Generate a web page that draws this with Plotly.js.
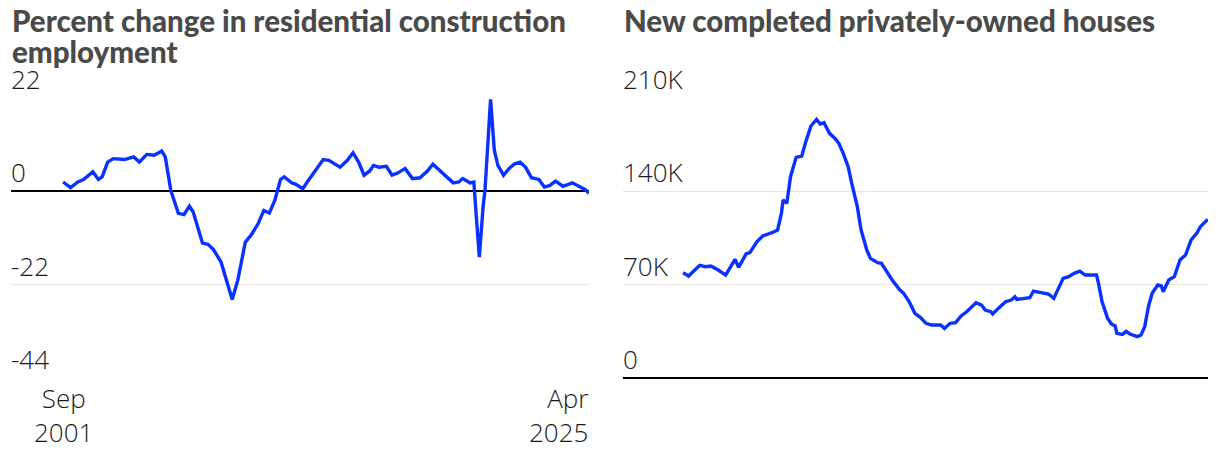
<!DOCTYPE html>
<html>
<head>
<meta charset="utf-8">
<script src="https://cdn.plot.ly/plotly-3.0.1.min.js"></script>
<style>
  html, body { margin: 0; padding: 0; background: #fff; }
  #chart { width: 1220px; height: 456px; }
</style>
</head>
<body>
<div id="chart"></div>
<script>
// ---- Data: percent change in residential construction employment ----
const empDates = [
  '2001-09','2002-01','2002-05','2002-08','2003-01','2003-04','2003-06','2003-09','2003-12',
  '2004-06','2004-11','2005-02','2005-06','2005-10','2006-02','2006-04','2006-07','2006-11',
  '2007-02','2007-05','2007-07','2007-10','2007-12','2008-03','2008-06','2008-10','2009-01',
  '2009-04','2009-07','2009-11','2010-02','2010-06','2010-09','2010-12','2011-03','2011-06',
  '2011-08','2011-12','2012-02','2012-06','2012-09','2013-01','2013-05','2013-08','2014-02',
  '2014-06','2014-09','2014-12','2015-03','2015-06','2015-08','2015-11','2016-03','2016-06',
  '2016-09','2017-01','2017-05','2017-09','2018-01','2018-04','2018-08','2018-11','2019-03',
  '2019-06','2019-08','2019-12','2020-02','2020-03','2020-05','2020-07','2020-08','2020-11',
  '2021-01','2021-03','2021-06','2021-09','2021-12','2022-03','2022-06','2022-09','2023-01',
  '2023-04','2023-07','2023-10','2024-02','2024-07','2024-11','2025-02','2025-04'
];
const empValues = [
  2.2, 0.9, 2.2, 2.8, 4.6, 2.8, 3.4, 6.9, 7.7,
  7.5, 8.1, 6.9, 8.7, 8.5, 9.5, 8.1, 0.2, -5.2,
  -5.5, -3.5, -4.8, -9.2, -12.2, -12.5, -13.8, -16.7, -21.0,
  -25.5, -21.0, -12.0, -10.4, -7.6, -4.5, -5.1, -2.1, 2.8,
  3.4, 2.0, 1.7, 0.6, 2.6, 5.1, 7.5, 7.3, 5.7,
  7.3, 9.1, 6.9, 3.8, 4.8, 6.1, 5.7, 5.9, 3.8,
  4.3, 5.4, 3.0, 3.2, 4.8, 6.4, 4.8, 3.4, 2.0,
  2.2, 3.0, 2.0, 2.2, -3.7, -15.5, -3.7, 0.2, 21.7,
  9.7, 6.1, 3.8, 5.4, 6.5, 6.9, 5.6, 3.2, 2.8,
  1.0, 1.4, 2.4, 1.2, 2.0, 1.2, 0.4, -0.5
];

// ---- Data: new completed privately-owned houses (thousands) ----
const houseDates = [
  '2001-09','2001-12','2002-03','2002-06','2002-09','2002-12','2003-04','2003-08','2004-01',
  '2004-03','2004-07','2004-09','2005-01','2005-04','2005-09','2005-12','2006-02','2006-03',
  '2006-05','2006-07','2006-10','2007-01','2007-03','2007-05','2007-06','2007-09','2007-11',
  '2008-01','2008-04','2008-07','2008-09','2008-11','2009-02','2009-04','2009-07','2009-09',
  '2009-12','2010-02','2010-06','2010-08','2010-11','2011-02','2011-06','2011-08','2011-11',
  '2012-02','2012-05','2012-08','2012-11','2013-04','2013-06','2013-09','2013-12','2014-03',
  '2014-06','2014-09','2014-11','2015-02','2015-04','2015-07','2015-08','2015-11','2016-03',
  '2016-06','2016-08','2016-09','2017-01','2017-04','2017-06','2017-10','2018-02','2018-05',
  '2018-08','2018-10','2019-01','2019-04','2019-07','2019-10','2020-04','2020-05','2020-07',
  '2020-10','2020-12','2021-02','2021-03','2021-06','2021-08','2021-10','2022-02','2022-04',
  '2022-06','2022-08','2022-10','2023-01','2023-03','2023-04','2023-07','2023-10','2024-01',
  '2024-04','2024-07','2024-10','2024-12','2025-01','2025-04'
];
const houseValues = [
  79, 76.5, 80.5, 84.5, 83.5, 84, 81, 77.2, 89,
  83, 93, 94, 102.5, 106.5, 109, 111, 123.5, 133.5,
  131, 151, 165.5, 166.5, 176, 186, 189, 194, 190.5,
  191.5, 183.5, 179.7, 176, 169.7, 158.5, 146, 128.5, 111,
  96.5, 89.7, 86.5, 86, 79.7, 73, 66, 63.5, 57.2,
  48.5, 45.5, 41, 39.7, 39.7, 37.2, 41, 41.5, 46.5,
  49.7, 54, 56.5, 54.7, 51, 49.7, 48, 52.2, 57.2,
  58.5, 61, 59, 59.7, 60.2, 65.2, 64, 63, 59.7,
  69.7, 74.7, 76, 78.5, 80.2, 77.2, 77.2, 71.5, 57.2,
  44.7, 40.5, 39, 33.5, 32.7, 35, 33, 31, 32.2,
  38.5, 53.5, 63.5, 69.7, 69, 64.7, 73.5, 76, 88.5,
  92.2, 103.5, 108.5, 113.5, 114.7, 119
];

// ---- Axis labels and titles ----
const leftTickVals = [-44, -22, 0, 22];
const leftTickText = ['-44', '-22', '0', '22'];
const rightTickVals = [0, 70, 140, 210];
const rightTickText = ['0', '70K', '140K', '210K'];
const xTickDates = ['2001-09-01', '2025-04-01'];
const xTickMonths = ['Sep', 'Apr'];
const xTickYears = ['2001', '2025'];
const leftTitleLines = ['Percent change in residential construction', 'employment'];
const rightTitleLines = ['New completed privately-owned houses'];

const BLUE = '#0a32ff';
const GRID = '#e4e4e4';
const TXT = '#1a1a1a';
const tickFont = { family: '"Open Sans", Roboto, "Liberation Sans", sans-serif', size: 26, color: TXT, weight: 300 };
const titleFont = { family: 'Lato, Roboto, "Liberation Sans", sans-serif', size: 29.5, color: '#4a4a4a', weight: 900 };

// plot area: top at 97px, bottom at 379px (1px padding beyond the outer gridlines)
const PLOT_BOTTOM = 379, PLOT_H = 282;
const py = p => (PLOT_BOTTOM - p) / PLOT_H;

const traces = [
  { x: empDates, y: empValues, type: 'scatter', mode: 'lines', xaxis: 'x', yaxis: 'y',
    line: { color: BLUE, width: 3.4 }, hoverinfo: 'skip' },
  { x: houseDates, y: houseValues, type: 'scatter', mode: 'lines', xaxis: 'x2', yaxis: 'y2',
    line: { color: BLUE, width: 3.4 }, hoverinfo: 'skip' }
];

const annotations = [];
[[leftTitleLines, 'x domain'], [rightTitleLines, 'x2 domain']].forEach(([lines, ref]) => {
  lines.forEach((t, i) => {
    annotations.push({ xref: ref, yref: 'paper', x: 0, y: py(2 + 31 * i), xanchor: 'left', yanchor: 'top',
      text: t, showarrow: false, align: 'left', font: titleFont, borderpad: 0 });
  });
});
xTickDates.forEach((d, i) => {
  const last = i === xTickDates.length - 1;
  annotations.push({ xref: 'x', yref: 'paper', x: d, y: py(379), xanchor: last ? 'right' : 'center',
    yanchor: 'top', align: last ? 'right' : 'center',
    text: xTickMonths[i] + '<br>' + xTickYears[i], showarrow: false, font: tickFont, borderpad: 0 });
});

const yCommon = {
  showgrid: true, gridcolor: GRID, gridwidth: 1.6,
  ticks: '', ticklabelposition: 'inside top', ticklabeloverflow: 'allow', tickfont: tickFont,
  showline: false, fixedrange: true, ticklabelshift: 0, ticklabelstandoff: -3
};
const leftPad = 66 / 280, rightPad = 210 / 280;

const layout = {
  width: 1220, height: 456,
  margin: { l: 11, r: 12, t: 97, b: 77, pad: 0 },
  paper_bgcolor: '#fff', plot_bgcolor: '#fff',
  showlegend: false,
  xaxis: { domain: [0, 0.48287], type: 'date', range: ['1999-05-01', '2025-04-01'],
    showgrid: false, zeroline: false, showticklabels: false, ticks: '', fixedrange: true },
  xaxis2: { domain: [0.51128, 1], type: 'date', range: ['1998-12-20', '2025-04-05'], anchor: 'y2',
    showgrid: false, zeroline: false, showticklabels: false, ticks: '', fixedrange: true },
  yaxis: Object.assign({}, yCommon, { range: [-44 - leftPad, 22 + leftPad], tickvals: leftTickVals,
    ticktext: leftTickText, zeroline: true, zerolinecolor: '#000', zerolinewidth: 2 }),
  yaxis2: Object.assign({}, yCommon, { anchor: 'x2', range: [-rightPad, 210 + rightPad], tickvals: rightTickVals,
    ticktext: rightTickText, zeroline: true, zerolinecolor: '#000', zerolinewidth: 2 }),
  annotations: annotations
};

Plotly.newPlot('chart', traces, layout, { displayModeBar: false, staticPlot: true });
</script>
</body>
</html>
